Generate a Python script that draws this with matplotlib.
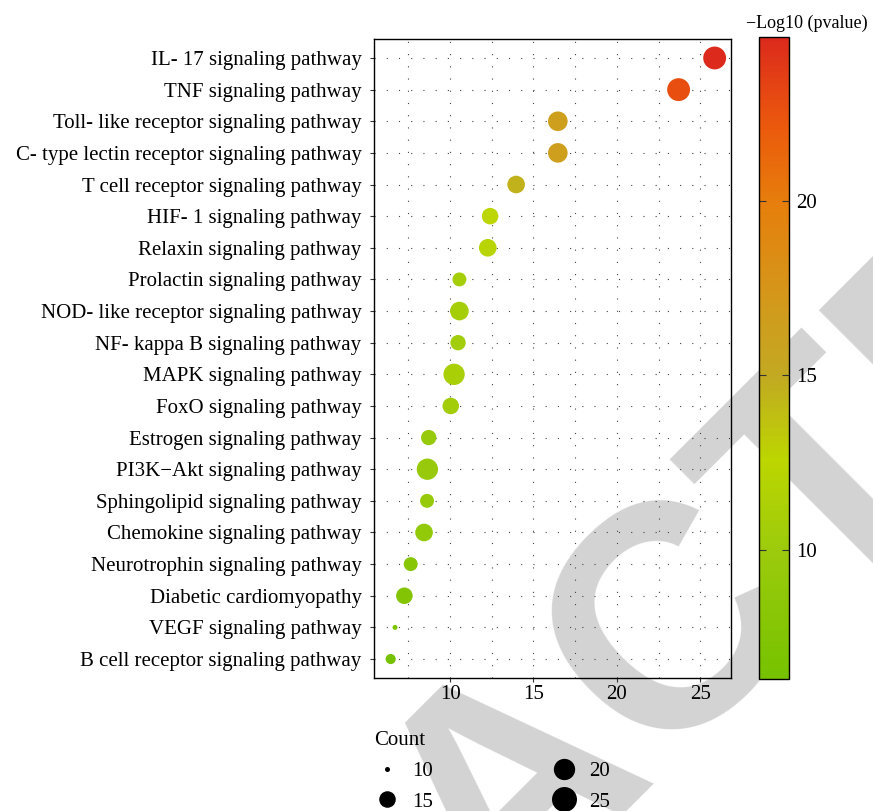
import numpy as np
import matplotlib.pyplot as plt
from matplotlib.colors import LinearSegmentedColormap, Normalize
from matplotlib.lines import Line2D

# KEGG pathways, top to bottom as drawn
pathways = [
    "IL- 17 signaling pathway",
    "TNF signaling pathway",
    "Toll- like receptor signaling pathway",
    "C- type lectin receptor signaling pathway",
    "T cell receptor signaling pathway",
    "HIF- 1 signaling pathway",
    "Relaxin signaling pathway",
    "Prolactin signaling pathway",
    "NOD- like receptor signaling pathway",
    "NF- kappa B signaling pathway",
    "MAPK signaling pathway",
    "FoxO signaling pathway",
    "Estrogen signaling pathway",
    "PI3K\u2212Akt signaling pathway",
    "Sphingolipid signaling pathway",
    "Chemokine signaling pathway",
    "Neurotrophin signaling pathway",
    "Diabetic cardiomyopathy",
    "VEGF signaling pathway",
    "B cell receptor signaling pathway",
]
x_values = [25.86, 23.7, 16.46, 16.46, 13.96, 12.4, 12.26, 10.56, 10.56, 10.48,
            10.24, 10.04, 8.72, 8.64, 8.62, 8.44, 7.64, 7.26, 6.7, 6.44]
counts = [22, 22, 18, 18, 16, 15, 16, 13, 17, 14,
          20, 15, 14, 20, 13, 16, 13, 15, 10, 11]
neg_log_p = [24.7, 22.7, 16.5, 16.5, 14.5, 12.5, 12.3, 10.8, 10.8, 10.5,
             11.0, 10.6, 9.4, 9.6, 9.4, 9.1, 8.0, 7.6, 7.0, 6.3]

legend_counts = [10, 15, 20, 25]
x_ticks = [10, 15, 20, 25]
cbar_ticks = [10, 15, 20]

plt.rcParams['font.family'] = ['Liberation Serif', 'DejaVu Serif']
FS = 15

cmap = LinearSegmentedColormap.from_list(
    "pval",
    [(0.0, "#76c200"), (0.20, "#9ccb0c"), (0.34, "#bcd600"),
     (0.47, "#c2aa22"), (0.58, "#d29a1c"), (0.74, "#e67f0c"),
     (0.86, "#eb5a0c"), (1.0, "#dc2a1c")])
norm = Normalize(vmin=min(neg_log_p), vmax=max(neg_log_p))


def marker_diam_pt(c):
    # ggplot-like area scale, diameter in points
    px = 5 * (1 + 5 * np.sqrt(np.clip((np.asarray(c, float) - 10) / 23.5, 0, None)))
    return px * 0.72


fig = plt.figure(figsize=(8.73, 8.11), dpi=100)

# watermark behind everything
fig.text(574 / 873, 1 - 843 / 811, "RETRACTED", fontsize=228, color="#d3d3d3",
         family="Liberation Sans", weight="bold", rotation=45,
         rotation_mode="anchor", ha="center", va="baseline", zorder=-5)

ax = fig.add_axes([374 / 873, 1 - 678 / 811, 357 / 873, 639 / 811])
ax.set_facecolor("none")

y = np.arange(len(pathways))[::-1]
sc = ax.scatter(x_values, y, s=marker_diam_pt(counts) ** 2, c=neg_log_p,
                cmap=cmap, norm=norm, linewidths=0, zorder=3)

ax.set_xlim(5.44, 26.84)
ax.set_ylim(-0.6, len(pathways) - 0.4)
ax.set_yticks(y)
ax.set_yticklabels(pathways)
ax.set_xticks(x_ticks)
ax.set_xticks([7.5, 12.5, 17.5, 22.5], minor=True)

dots = (0, (1, 10))
ax.grid(True, which="major", axis="both", color="#444444", lw=0.8, ls=dots, zorder=1)
ax.grid(True, which="minor", axis="x", color="#444444", lw=0.8, ls=dots, zorder=1)
ax.tick_params(axis="both", which="major", labelsize=FS, length=3, width=0.8,
               color="#333333")
ax.tick_params(axis="y", pad=6)
ax.tick_params(axis="x", pad=2)
ax.tick_params(axis="x", which="minor", length=0)
for s in ax.spines.values():
    s.set_linewidth(1.0)
    s.set_color("black")

# colorbar
cax = fig.add_axes([759 / 873, 1 - 679 / 811, 30 / 873, 642 / 811])
cb = fig.colorbar(sc, cax=cax, ticks=cbar_ticks)
cb.outline.set_linewidth(1.0)
cb.ax.tick_params(labelsize=FS, length=5, width=0.8, color="#333333",
                  direction="in", left=True, right=True, pad=5)
fig.text(746 / 873, 1 - 28 / 811, "\u2212Log10 (pvalue)", ha="left",
         va="baseline", fontsize=13)

# size legend
handles = [Line2D([], [], marker="o", ls="", color="black", markeredgewidth=0,
                  markersize=marker_diam_pt(c)) for c in legend_counts]
leg = ax.legend(handles, [str(c) for c in legend_counts], title="Count", ncol=2,
                loc="upper left", bbox_to_anchor=(374.5 / 873, 1 - 731 / 811),
                bbox_transform=fig.transFigure, frameon=False, fontsize=FS,
                title_fontsize=FS, columnspacing=5.7, handletextpad=0.6,
                labelspacing=0.54, handlelength=1.2, alignment="left",
                borderaxespad=0, borderpad=0)

fig.savefig("out.png", dpi=100)
